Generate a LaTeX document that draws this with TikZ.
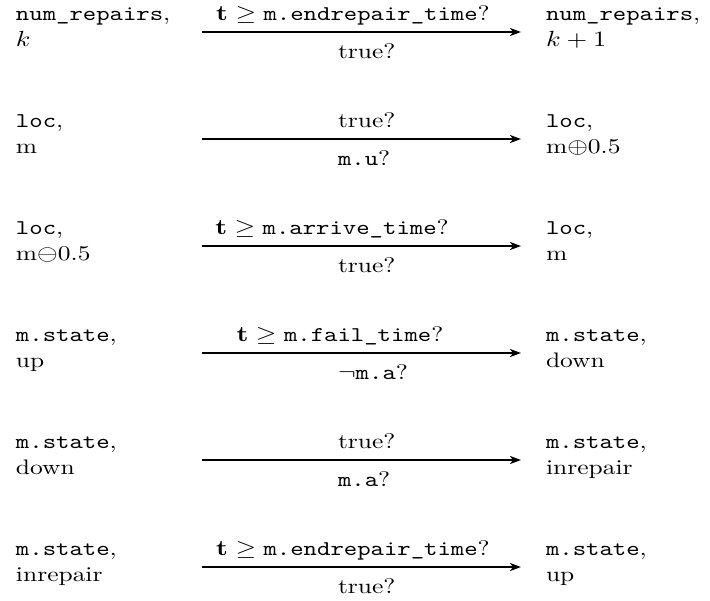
\documentclass[tikz,border=0pt]{standalone}
\usepackage{graphicx}
\usetikzlibrary{arrows.meta}
\newcommand\widetxt[1]{\scalebox{1.214}[1]{#1}}
% #1 id, #2 y, #3 left1, #4 left2, #5 bottom label, #6 right1, #7 right2
\newcommand\myrow[7]{%
  \node[lab] (L#1a) at (16,#2-12) {\widetxt{#3}};
  \node[lab] (L#1b) at (16,#2+14) {\widetxt{#4}};
  \coordinate (S#1) at (202,#2);
  \coordinate (E#1) at (521,#2);
  \draw[trans] (S#1) -- (E#1);
  \node[lab] (B#1) at (338,#2+26) {\widetxt{#5}};
  \node[lab] (R#1a) at (546,#2-12) {\widetxt{#6}};
  \node[lab] (R#1b) at (546,#2+14) {\widetxt{#7}};
}
\begin{document}
\begin{tikzpicture}[x=0.5pt,y=-0.5pt,
  every node/.style={inner sep=0pt, outer sep=0pt, font=\fontsize{10.5}{12}\selectfont},
  lab/.style={anchor=base west},
  cond/.style={anchor=base},
  trans/.style={line width=1.4pt, -{Stealth[length=5.5pt,width=4pt,inset=1.5pt]}}]
\useasboundingbox (0,0) rectangle (710,600);
\myrow{1}{32}{\texttt{num\_repairs},}{$k$}{true?}{\texttt{num\_repairs},}{$k+1$}
\node[cond] (T1) at (353,20) {\widetxt{$\mathbf{t}\geq\texttt{m.endrepair\_time}$?}};
\myrow{2}{139}{\texttt{loc},}{m}{\texttt{m.u}?}{\texttt{loc},}{m$\oplus$0.5}
\node[lab] (T2) at (338,127) {\widetxt{true?}};
\myrow{3}{246}{\texttt{loc},}{m$\ominus$0.5}{true?}{\texttt{loc},}{m}
\node[cond] (T3) at (332,234) {\widetxt{$\mathbf{t}\geq\texttt{m.arrive\_time}$?}};
\myrow{4}{353}{\texttt{m.state},}{up}{$\neg$\texttt{m.a}?}{\texttt{m.state},}{down}
\node[cond] (T4) at (340,341) {\widetxt{$\mathbf{t}\geq\texttt{m.fail\_time}$?}};
\myrow{5}{460}{\texttt{m.state},}{down}{\texttt{m.a}?}{\texttt{m.state},}{inrepair}
\node[lab] (T5) at (338,448) {\widetxt{true?}};
\myrow{6}{567}{\texttt{m.state},}{inrepair}{true?}{\texttt{m.state},}{up}
\node[cond] (T6) at (353,555) {\widetxt{$\mathbf{t}\geq\texttt{m.endrepair\_time}$?}};
\end{tikzpicture}
\end{document}
